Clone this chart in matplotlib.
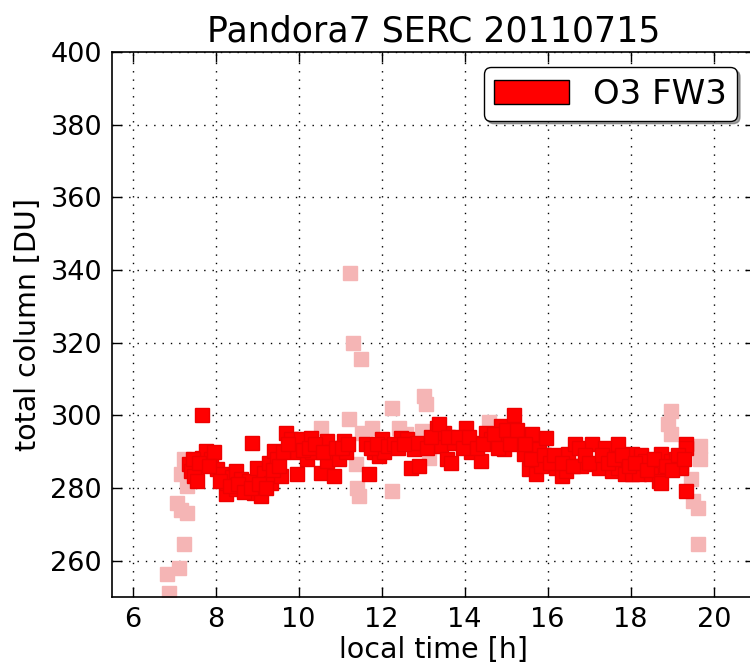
import matplotlib
matplotlib.use('Agg')
import matplotlib.pyplot as plt
import matplotlib.patches as mpatches

# O3 total column, Pandora7 at SERC, 2011-07-15
# flagged / low quality retrievals (pale)
pale_t = [6.84, 6.89, 7.13, 7.25, 7.06, 7.18, 7.32, 7.25, 7.18, 7.32,
          10.54, 11.22, 11.24, 11.31, 11.50, 11.38, 11.41, 11.46, 11.53, 11.77,
          12.25, 12.25, 12.42, 12.59, 12.97, 13.02, 13.07, 13.14, 13.38,
          14.03, 14.58, 18.91, 18.98, 18.98, 19.46, 19.51, 19.63, 19.63,
          19.68, 19.68]
pale_o3 = [256.4, 251.0, 258.0, 264.6, 276.0, 274.0, 273.0, 288.0, 284.0, 280.6,
           296.5, 299.0, 339.3, 320.0, 315.4, 286.7, 280.0, 277.8, 295.2, 296.6,
           302.0, 279.2, 296.6, 295.0, 295.8, 305.4, 303.2, 288.3, 293.0,
           292.0, 298.3, 297.7, 301.3, 295.0, 282.4, 276.5, 274.6, 264.6,
           291.6, 288.0]

# good retrievals (red)
good_t = [7.37, 7.42, 7.49, 7.56, 7.68, 7.68, 7.78, 7.90, 7.97, 8.04,
          8.16, 8.26, 8.28, 8.40, 8.50, 8.50, 8.62, 8.74, 8.80, 8.88,
          8.93, 9.00, 9.10, 9.17, 9.29, 9.34, 9.41, 9.49, 9.58, 9.70,
          9.82, 9.89, 9.97, 9.97, 10.06, 10.20, 10.30, 10.33, 10.54, 10.69,
          10.69, 10.78, 10.86, 10.98, 11.10, 11.14, 11.63, 11.70, 11.82, 11.94,
          12.00, 12.06, 12.47, 12.61, 12.71, 12.78, 12.85, 12.90, 13.33, 13.43,
          13.50, 13.57, 13.67, 13.74, 14.03, 14.15, 14.22, 14.39, 14.51, 14.63,
          14.87, 14.94, 15.05, 15.18, 15.35, 15.42, 15.54, 15.62, 15.71, 15.78,
          15.83, 15.95, 16.19, 16.26, 16.34, 16.43, 16.50, 16.67, 16.75, 16.80,
          17.06, 17.15, 17.23, 17.39, 17.54, 17.70, 17.70, 17.87, 18.02, 18.02,
          18.19, 18.26, 18.35, 18.50, 18.67, 18.72, 18.74, 18.98, 19.08, 19.22,
          19.22, 19.32, 19.34, 19.32,
          7.45, 7.60, 7.85, 8.10, 8.35, 8.55, 8.68, 8.85, 9.05, 9.22,
          9.38, 9.52, 9.62, 9.75, 10.10, 10.25, 10.40, 10.60, 10.90, 11.05,
          11.20, 11.75, 11.88, 12.15, 12.30, 12.40, 12.55, 13.10, 13.20, 13.38,
          13.60, 13.85, 13.95, 14.10, 14.30, 14.45, 14.70, 14.80, 15.00, 15.10,
          15.25, 15.45, 15.60, 15.90, 16.05, 16.15, 16.35, 16.60, 16.90, 17.00,
          17.30, 17.45, 17.60, 17.80, 17.95, 18.10, 18.40, 18.55, 18.85, 19.00,
          19.15, 19.28]
good_o3 = [286.7, 284.8, 283.4, 282.0, 300.0, 288.3, 290.3, 288.0, 289.8, 285.3,
           284.0, 278.4, 281.5, 283.0, 284.8, 279.8, 282.6, 280.6, 282.0, 292.5,
           278.7, 285.6, 277.9, 284.2, 287.0, 281.5, 290.3, 288.0, 283.4, 295.2,
           293.6, 291.6, 289.8, 283.9, 293.6, 288.0, 293.9, 289.8, 284.2, 293.0,
           287.5, 289.8, 283.4, 288.0, 293.0, 289.8, 292.2, 284.0, 289.8, 288.9,
           293.6, 289.8, 293.9, 293.6, 285.6, 290.8, 292.5, 286.1, 296.6, 291.6,
           295.2, 288.1, 287.0, 292.5, 296.6, 289.8, 292.5, 287.5, 295.2, 293.6,
           297.2, 290.8, 293.5, 300.0, 294.4, 289.5, 285.3, 294.9, 284.0, 290.8,
           286.1, 293.9, 285.6, 288.3, 283.4, 284.8, 289.5, 292.2, 291.1, 286.1,
           292.2, 286.7, 285.6, 291.1, 284.8, 292.2, 285.6, 284.0, 289.5, 284.0,
           284.0, 289.0, 287.5, 284.0, 282.0, 281.4, 289.5, 287.5, 288.0, 286.7,
           285.6, 292.2, 291.1, 279.2,
           288.0, 287.0, 286.0, 282.0, 280.5, 281.0, 279.0, 280.0, 281.0, 280.0,
           285.0, 286.0, 290.0, 292.0, 290.5, 291.0, 292.0, 290.0, 291.0, 291.0,
           292.0, 291.0, 292.0, 291.5, 292.0, 291.0, 292.0, 291.0, 294.0, 297.7,
           294.0, 294.0, 291.0, 294.0, 291.0, 292.0, 295.0, 291.0, 296.0, 292.0,
           296.0, 292.0, 288.0, 289.0, 287.0, 289.0, 287.0, 286.0, 289.0, 287.0,
           289.0, 287.0, 288.0, 289.0, 286.0, 287.0, 285.0, 288.0, 286.0, 285.0,
           289.0, 288.0]

plt.rcParams['font.family'] = 'DejaVu Sans'

fig = plt.figure(figsize=(7.5, 6.69), dpi=100)
ax = fig.add_axes([0.149, 0.1076, 0.858, 0.8144])

ax.plot(pale_t, pale_o3, 's', color='#f5b5b5', mec='#f5b5b5', ms=9.5, zorder=2)
ax.plot(good_t, good_o3, 's', color='#ff0000', mec='#ee0000', ms=9.5, zorder=3)

ax.set_xlim(5.5, 21)
ax.set_ylim(250, 400)
ax.set_xticks([6, 8, 10, 12, 14, 16, 18, 20])
ax.set_yticks(range(260, 401, 20))
ax.grid(True, color='black', linestyle=(0, (1, 5)), linewidth=1)
ax.tick_params(direction='in', top=True, right=True, length=7, width=1,
               labelsize=19.5, pad=7)
for sp in ax.spines.values():
    sp.set_linewidth(1.2)

ax.set_xlabel('local time [h]', fontsize=20.5, labelpad=2)
ax.set_ylabel('total column [DU]', fontsize=20.5, labelpad=6)
ax.set_title('Pandora7 SERC 20110715', fontsize=25, pad=8)

patch = mpatches.Patch(facecolor='#ff0000', edgecolor='black', label='O3 FW3')
ax.legend(handles=[patch], loc='upper right', fontsize=24.5, fancybox=True,
          shadow=True, framealpha=1, edgecolor='black', borderaxespad=0,
          bbox_to_anchor=(0.972, 0.972), handlelength=2.2, borderpad=0.3,
          handletextpad=0.7)

fig.savefig('out.png', dpi=100)
